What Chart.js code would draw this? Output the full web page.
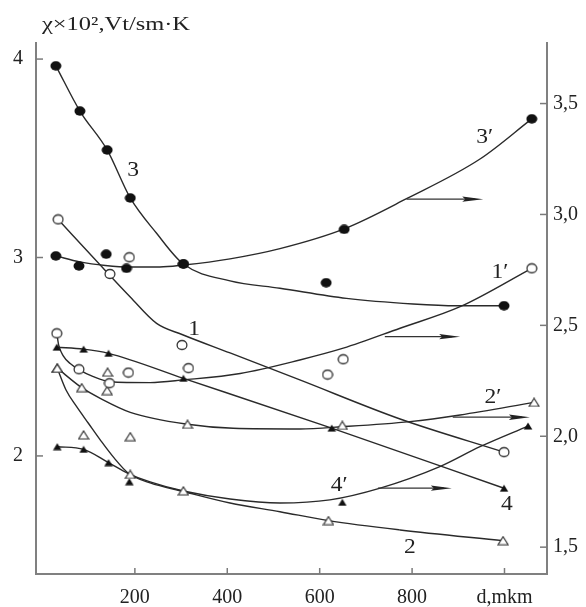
<!DOCTYPE html>
<html><head><meta charset="utf-8">
<script src="https://cdn.jsdelivr.net/npm/chart.js@4.4.1/dist/chart.umd.min.js"></script>
<style>html,body{margin:0;padding:0;background:#fff;}canvas{display:block;}</style>
</head><body>
<canvas id="c" width="586" height="607"></canvas>
<script>
// ---------- values ----------
const titleText = 'χ×10²,Vt/sm·K';
const xAxisName = 'd,mkm';
const xTicks = [200, 400, 600, 800, 1000];
const yLeftTicks = [2, 3, 4];
const yRightTicks = [1.5, 2.0, 2.5, 3.0, 3.5];
const xRange = [-14, 1092];
const yLeftRange = [1.405, 4.081];
const yRightRange = [1.379, 3.773];

// curve 3 (left axis, filled circles)
const c3MarkX = [29, 81, 140, 190, 305, 614, 999];
const c3MarkY = [3.966, 3.738, 3.542, 3.300, 2.967, 2.873, 2.757];
const c3LineX = [29, 81, 140, 190, 247, 305, 406, 514, 658, 802, 896, 999];
const c3LineY = [3.966, 3.738, 3.542, 3.300, 3.122, 2.967, 2.882, 2.845, 2.794, 2.766, 2.757, 2.757];

// curve 3' (right axis, filled circles)
const c3pMarkX = [29, 79, 138, 182, 305, 653, 1059];
const c3pMarkY = [2.813, 2.768, 2.821, 2.757, 2.777, 2.933, 3.431];
const c3pLineX = [29, 81, 136, 190, 254, 305, 406, 514, 653, 788, 947, 1059];
const c3pLineY = [2.813, 2.786, 2.770, 2.763, 2.763, 2.772, 2.800, 2.846, 2.935, 3.071, 3.250, 3.431];

// curve 1 (left axis, open circles)
const c1MarkX = [34, 146, 188, 302, 999];
const c1MarkY = [3.192, 2.917, 3.001, 2.559, 2.019];
const c1LineX = [34, 125, 190, 247, 302, 406, 557, 774, 999];
const c1LineY = [3.192, 2.962, 2.801, 2.668, 2.612, 2.519, 2.383, 2.186, 2.019];

// curve 1' (right axis, open circles)
const c1pMarkX = [31, 79, 145, 186, 316, 617, 651, 1059];
const c1pMarkY = [2.464, 2.302, 2.239, 2.287, 2.307, 2.278, 2.347, 2.757];
const c1pLineX = [31, 35, 45, 60, 78, 110, 146, 233, 305, 428, 557, 651, 774, 904, 1059];
const c1pLineY = [2.464, 2.412, 2.362, 2.328, 2.302, 2.269, 2.246, 2.242, 2.254, 2.283, 2.344, 2.397, 2.487, 2.584, 2.757];

// curve 2 (left axis, open triangles)
const c2MarkX = [32, 89, 190, 190, 305, 619, 997];
const c2MarkY = [2.442, 2.106, 2.097, 1.907, 1.824, 1.674, 1.573];
const c2LineX = [32, 51, 74, 99, 125, 155, 186, 233, 305, 406, 514, 619, 774, 997];
const c2LineY = [2.442, 2.332, 2.248, 2.166, 2.081, 1.990, 1.913, 1.864, 1.821, 1.763, 1.719, 1.674, 1.627, 1.573];

// curve 2' (right axis, open triangles)
const c2pMarkX = [32, 85, 141, 140, 314, 649, 1064];
const c2pMarkY = [2.307, 2.219, 2.289, 2.206, 2.054, 2.049, 2.153];
const c2pLineX = [32, 85, 125, 190, 314, 413, 557, 649, 795, 904, 1064];
const c2pLineY = [2.307, 2.219, 2.171, 2.108, 2.054, 2.036, 2.033, 2.043, 2.066, 2.096, 2.153];

// curve 4 (left axis, filled triangles)
const c4MarkX = [31, 89, 143, 305, 626, 999];
const c4MarkY = [2.548, 2.538, 2.517, 2.391, 2.140, 1.837];
const c4LineX = [31, 89, 143, 305, 626, 999];
const c4LineY = [2.548, 2.538, 2.517, 2.391, 2.140, 1.837];

// curve 4' (right axis, filled triangles)
const c4pMarkX = [32, 89, 143, 188, 649, 1051];
const c4pMarkY = [1.953, 1.941, 1.881, 1.795, 1.702, 2.046];
const c4pLineX = [32, 89, 143, 186, 233, 305, 406, 514, 622, 731, 860, 947, 1051];
const c4pLineY = [1.953, 1.941, 1.881, 1.832, 1.794, 1.753, 1.717, 1.699, 1.713, 1.766, 1.863, 1.953, 2.046];

// arrows pointing to the right axis (right-axis values)
const arrowY = [3.069, 2.449, 2.086, 1.766];
const arrowX0 = [788, 741, 888, 726];
const arrowX1 = [954, 904, 1055, 886];

// curve labels (anchored in left-axis units)
const curveLabels = ['3', '3′', '1', '1′', '2′', '4′', '4', '2'];
const curveLabelX = [196, 957, 328, 990, 975, 642, 1005, 795];
const curveLabelY = [3.441, 3.607, 2.635, 2.927, 2.297, 1.849, 1.753, 1.537];

// ---------- helpers ----------
const pts = (xs, ys) => xs.map((x, i) => ({x: x, y: ys[i]}));

function marker(kind) {
  const c = document.createElement('canvas');
  const g = c.getContext('2d');
  if (kind === 'fc') {
    c.width = 12; c.height = 10;
    g.fillStyle = '#111';
    g.beginPath(); g.ellipse(6, 5, 5.5, 4.7, 0, 0, Math.PI * 2); g.fill();
  } else if (kind === 'oc') {
    c.width = 12; c.height = 12;
    g.fillStyle = '#fff'; g.strokeStyle = '#333'; g.lineWidth = 1.3;
    g.beginPath(); g.ellipse(6, 6, 4.9, 4.5, 0, 0, Math.PI * 2); g.fill(); g.stroke();
  } else if (kind === 'ft') {
    c.width = 10; c.height = 8;
    g.fillStyle = '#111';
    g.beginPath(); g.moveTo(5, 0.5); g.lineTo(9.3, 7.6); g.lineTo(0.7, 7.6); g.closePath(); g.fill();
  } else {
    c.width = 12; c.height = 10;
    g.fillStyle = '#fff'; g.strokeStyle = '#333'; g.lineWidth = 1.2;
    g.beginPath(); g.moveTo(6, 1); g.lineTo(11, 9); g.lineTo(1, 9); g.closePath(); g.fill(); g.stroke();
  }
  return c;
}
const FC = marker('fc'), OC = marker('oc'), FT = marker('ft'), OT = marker('ot');

const lineDS = (xs, ys, axis) => ({
  type: 'scatter', data: pts(xs, ys), yAxisID: axis, showLine: true, pointRadius: 0,
  pointHoverRadius: 0, borderColor: '#2a2a2a', borderWidth: 1.4, fill: false,
  cubicInterpolationMode: 'monotone', order: 2
});
const markDS = (xs, ys, axis, style) => ({
  type: 'scatter', data: pts(xs, ys), yAxisID: axis, showLine: false,
  pointStyle: style, pointRadius: 5, pointHoverRadius: 5, order: 1
});

const serif = '"Liberation Serif", "Times New Roman", serif';

const decor = {
  id: 'decor',
  afterDatasetsDraw(chart) {
    const ctx = chart.ctx, a = chart.chartArea;
    const sx = chart.scales.x, yl = chart.scales.y, yr = chart.scales.y2;
    ctx.save();
    // inward tick marks
    ctx.strokeStyle = '#7a7a7a'; ctx.lineWidth = 1.5;
    const seg = (x0, y0, x1, y1) => { ctx.beginPath(); ctx.moveTo(x0, y0); ctx.lineTo(x1, y1); ctx.stroke(); };
    xTicks.forEach(v => { const p = sx.getPixelForValue(v); seg(p, a.bottom, p, a.bottom - 6); });
    yLeftTicks.forEach(v => { const p = yl.getPixelForValue(v); seg(a.left, p, a.left + 7, p); });
    yRightTicks.forEach(v => { const p = yr.getPixelForValue(v); seg(a.right, p, a.right - 7, p); });
    // arrows
    ctx.strokeStyle = '#333'; ctx.fillStyle = '#222'; ctx.lineWidth = 1.2;
    arrowY.forEach((v, i) => {
      const y = yr.getPixelForValue(v);
      const x0 = sx.getPixelForValue(arrowX0[i]), x1 = sx.getPixelForValue(arrowX1[i]);
      seg(x0, y, x1 - 8, y);
      ctx.beginPath(); ctx.moveTo(x1, y); ctx.lineTo(x1 - 21, y - 2.7); ctx.lineTo(x1 - 18, y); ctx.lineTo(x1 - 21, y + 2.7); ctx.closePath(); ctx.fill();
    });
    // curve labels
    ctx.fillStyle = '#222'; ctx.textAlign = 'center'; ctx.textBaseline = 'middle';
    ctx.font = '21px ' + serif;
    curveLabels.forEach((t, i) => {
      ctx.save();
      ctx.translate(sx.getPixelForValue(curveLabelX[i]), yl.getPixelForValue(curveLabelY[i]));
      ctx.scale(1.12, 1);
      ctx.fillText(t, 0, 0);
      ctx.restore();
    });
    // axis title
    ctx.font = '19px ' + serif; ctx.textAlign = 'left';
    const w = ctx.measureText(titleText).width;
    ctx.translate(42, 25);
    ctx.scale(148 / w, 1);
    ctx.fillText(titleText, 0, 0);
    ctx.restore();
  }
};

const tickFont = {family: serif, size: 20};

new Chart(document.getElementById('c'), {
  type: 'scatter',
  data: {
    datasets: [
      markDS(c3MarkX, c3MarkY, 'y', FC),
      markDS(c3pMarkX, c3pMarkY, 'y2', FC),
      markDS(c1MarkX, c1MarkY, 'y', OC),
      markDS(c1pMarkX, c1pMarkY, 'y2', OC),
      markDS(c2MarkX, c2MarkY, 'y', OT),
      markDS(c2pMarkX, c2pMarkY, 'y2', OT),
      markDS(c4MarkX, c4MarkY, 'y', FT),
      markDS(c4pMarkX, c4pMarkY, 'y2', FT),
      lineDS(c3LineX, c3LineY, 'y'),
      lineDS(c3pLineX, c3pLineY, 'y2'),
      lineDS(c1LineX, c1LineY, 'y'),
      lineDS(c1pLineX, c1pLineY, 'y2'),
      lineDS(c2LineX, c2LineY, 'y'),
      lineDS(c2pLineX, c2pLineY, 'y2'),
      lineDS(c4LineX, c4LineY, 'y'),
      lineDS(c4pLineX, c4pLineY, 'y2')
    ]
  },
  options: {
    responsive: false, animation: false, devicePixelRatio: 1,
    layout: {padding: {top: 43, left: 0, right: 0, bottom: 0}},
    plugins: {legend: {display: false}, tooltip: {enabled: false}, title: {display: false}},
    events: [],
    scales: {
      x: {
        type: 'linear', position: 'bottom', min: xRange[0], max: xRange[1],
        afterBuildTicks: s => { s.ticks = xTicks.map(v => ({value: v})); },
        afterFit: s => { s.height = 33; },
        ticks: {callback: v => v === 1000 ? xAxisName : String(v), font: tickFont, color: '#222',
                padding: 12, autoSkip: false, maxRotation: 0},
        grid: {display: false, drawTicks: false},
        border: {display: true, color: '#808080', width: 2}
      },
      y: {
        type: 'linear', position: 'left', min: yLeftRange[0], max: yLeftRange[1],
        afterBuildTicks: s => { s.ticks = yLeftTicks.map(v => ({value: v})); },
        afterFit: s => { s.width = 36; },
        ticks: {callback: v => String(v), font: tickFont, color: '#222', padding: 13},
        grid: {display: false, drawTicks: false},
        border: {display: true, color: '#808080', width: 2}
      },
      y2: {
        type: 'linear', position: 'right', min: yRightRange[0], max: yRightRange[1],
        afterBuildTicks: s => { s.ticks = yRightTicks.map(v => ({value: v})); },
        afterFit: s => { s.width = 39; },
        ticks: {callback: v => v.toFixed(1).replace('.', ','), font: tickFont, color: '#222', padding: 6},
        grid: {display: false, drawTicks: false},
        border: {display: true, color: '#808080', width: 2}
      }
    }
  },
  plugins: [decor]
});
</script>
</body></html>
